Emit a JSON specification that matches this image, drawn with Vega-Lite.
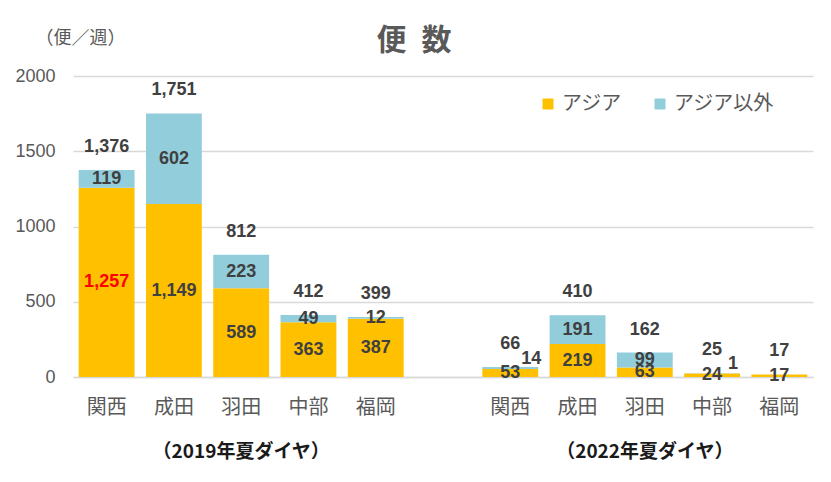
{
  "$schema": "https://vega.github.io/schema/vega-lite/v6.json",
  "autosize": {"type": "none"},
  "width": 740,
  "height": 301,
  "padding": {"left": 73, "top": 76, "right": 18, "bottom": 105},
  "background": "white",
  "title": {
    "text": "便\u2002数",
    "anchor": "middle",
    "fontSize": 30,
    "fontWeight": "bold",
    "color": "#595959",
    "font": "Noto Sans CJK JP",
    "dx": -29,
    "dy": 47,
    "offset": 20
  },
  "config": {
    "view": {"stroke": null},
    "text": {"font": "Liberation Sans", "fontSize": 18, "fontWeight": "bold"}
  },
  "datasets": {
    "seg": [
      {"k": "2019関西", "yr": 2019, "r": "アジア", "v": 1257},
      {"k": "2019関西", "yr": 2019, "r": "アジア以外", "v": 119},
      {"k": "2019成田", "yr": 2019, "r": "アジア", "v": 1149},
      {"k": "2019成田", "yr": 2019, "r": "アジア以外", "v": 602},
      {"k": "2019羽田", "yr": 2019, "r": "アジア", "v": 589},
      {"k": "2019羽田", "yr": 2019, "r": "アジア以外", "v": 223},
      {"k": "2019中部", "yr": 2019, "r": "アジア", "v": 363},
      {"k": "2019中部", "yr": 2019, "r": "アジア以外", "v": 49},
      {"k": "2019福岡", "yr": 2019, "r": "アジア", "v": 387},
      {"k": "2019福岡", "yr": 2019, "r": "アジア以外", "v": 12},
      {"k": "2022関西", "yr": 2022, "r": "アジア", "v": 53},
      {"k": "2022関西", "yr": 2022, "r": "アジア以外", "v": 14},
      {"k": "2022成田", "yr": 2022, "r": "アジア", "v": 219},
      {"k": "2022成田", "yr": 2022, "r": "アジア以外", "v": 191},
      {"k": "2022羽田", "yr": 2022, "r": "アジア", "v": 63},
      {"k": "2022羽田", "yr": 2022, "r": "アジア以外", "v": 99},
      {"k": "2022中部", "yr": 2022, "r": "アジア", "v": 24},
      {"k": "2022中部", "yr": 2022, "r": "アジア以外", "v": 1},
      {"k": "2022福岡", "yr": 2022, "r": "アジア", "v": 17},
      {"k": "2022福岡", "yr": 2022, "r": "アジア以外", "v": 0}
    ],
    "tot": [
      {"k": "2019関西", "t": 1376},
      {"k": "2019成田", "t": 1751},
      {"k": "2019羽田", "t": 812},
      {"k": "2019中部", "t": 412},
      {"k": "2019福岡", "t": 399},
      {"k": "2022関西", "t": 66},
      {"k": "2022成田", "t": 410},
      {"k": "2022羽田", "t": 162},
      {"k": "2022中部", "t": 25},
      {"k": "2022福岡", "t": 17}
    ],
    "grp": [
      {"k": "2019羽田", "yr": 2019, "g": "（2019年夏ダイヤ）"},
      {"k": "2022羽田", "yr": 2022, "g": "（2022年夏ダイヤ）"}
    ]
  },
  "layer": [
    {
      "data": {"name": "seg"},
      "transform": [
        {"stack": "v", "groupby": ["k"], "sort": [{"field": "r"}], "as": ["v0", "v1"]}
      ],
      "mark": {"type": "bar"},
      "encoding": {
        "x": {
          "field": "k",
          "type": "nominal",
          "sort": null,
          "scale": {
            "domain": ["2019関西", "2019成田", "2019羽田", "2019中部", "2019福岡", "gap", "2022関西", "2022成田", "2022羽田", "2022中部", "2022福岡"],
            "paddingInner": 0.17,
            "paddingOuter": 0.085
          },
          "axis": {
            "title": null,
            "labelExpr": "datum.value == 'gap' ? '' : slice(datum.value, 4)",
            "labelAngle": 0,
            "labelFont": "Noto Sans CJK JP",
            "labelFontSize": 20,
            "labelColor": "#595959",
            "labelPadding": 20,
            "ticks": false,
            "domain": true,
            "domainColor": "#d9d9d9",
            "domainWidth": 1.5
          }
        },
        "y": {
          "field": "v0",
          "type": "quantitative",
          "scale": {"domain": [0, 2000], "nice": false},
          "axis": {
            "title": "（便／週）",
            "titleAngle": 0,
            "titleAlign": "left",
            "titleBaseline": "middle",
            "titleX": -38,
            "titleY": -38,
            "titleFont": "Noto Sans CJK JP",
            "titleFontSize": 18,
            "titleFontWeight": "normal",
            "titleColor": "#595959",
            "values": [0, 500, 1000, 1500, 2000],
            "format": "d",
            "labelFont": "Liberation Sans",
            "labelFontSize": 18,
            "labelColor": "#595959",
            "labelPadding": 18,
            "ticks": false,
            "domain": false,
            "grid": true,
            "gridColor": "#d9d9d9",
            "gridWidth": 1.5
          }
        },
        "y2": {"field": "v1"},
        "color": {
          "field": "r",
          "type": "nominal",
          "scale": {"domain": ["アジア", "アジア以外"], "range": ["#FFC000", "#92CDDC"]},
          "legend": {
            "title": null,
            "orient": "none",
            "direction": "horizontal",
            "legendX": 465,
            "legendY": 18,
            "symbolType": "square",
            "symbolSize": 121,
            "symbolStrokeWidth": 0,
            "labelFont": "Noto Sans CJK JP",
            "labelFontSize": 20,
            "labelColor": "#595959",
            "labelOffset": 4,
            "columnPadding": 28
          }
        }
      }
    },
    {
      "data": {"name": "seg"},
      "transform": [
        {"stack": "v", "groupby": ["k"], "sort": [{"field": "r"}], "as": ["v0", "v1"]},
        {"calculate": "(datum.v0 + datum.v1) / 2", "as": "m"},
        {"filter": "datum.r == 'アジア'"}
      ],
      "mark": {"type": "text", "baseline": "middle", "align": "center"},
      "encoding": {
        "x": {"field": "k", "type": "nominal", "sort": null},
        "y": {"field": "m", "type": "quantitative"},
        "text": {"field": "v", "type": "quantitative", "format": ",d"},
        "color": {
          "condition": {"test": "datum.k == '2019関西'", "value": "#FF0000"},
          "value": "#404040"
        }
      }
    },
    {
      "data": {"name": "seg"},
      "transform": [
        {"stack": "v", "groupby": ["k"], "sort": [{"field": "r"}], "as": ["v0", "v1"]},
        {"calculate": "(datum.v0 + datum.v1) / 2", "as": "m"},
        {"filter": "datum.r == 'アジア以外' && datum.v > 0 && !(datum.yr == 2022 && datum.v < 20)"}
      ],
      "mark": {"type": "text", "baseline": "middle", "align": "center", "color": "#404040"},
      "encoding": {
        "x": {"field": "k", "type": "nominal", "sort": null},
        "y": {"field": "m", "type": "quantitative"},
        "text": {"field": "v", "type": "quantitative", "format": ",d"}
      }
    },
    {
      "data": {"name": "seg"},
      "transform": [
        {"stack": "v", "groupby": ["k"], "sort": [{"field": "r"}], "as": ["v0", "v1"]},
        {"calculate": "(datum.v0 + datum.v1) / 2", "as": "m"},
        {"filter": "datum.r == 'アジア以外' && datum.v > 0 && datum.yr == 2022 && datum.v < 20"}
      ],
      "mark": {"type": "text", "baseline": "middle", "align": "center", "color": "#404040", "dx": 21, "dy": -9},
      "encoding": {
        "x": {"field": "k", "type": "nominal", "sort": null},
        "y": {"field": "m", "type": "quantitative"},
        "text": {"field": "v", "type": "quantitative", "format": ",d"}
      }
    },
    {
      "data": {"name": "tot"},
      "mark": {"type": "text", "baseline": "middle", "align": "center", "color": "#404040", "dy": -23},
      "encoding": {
        "x": {"field": "k", "type": "nominal", "sort": null},
        "y": {"field": "t", "type": "quantitative"},
        "text": {"field": "t", "type": "quantitative", "format": ",d"}
      }
    },
    {
      "data": {"name": "grp"},
      "mark": {"type": "text", "baseline": "middle", "align": "center", "color": "#1a1a1a", "font": "Noto Sans CJK JP", "fontSize": 19, "fontWeight": "bold", "dy": 75},
      "encoding": {
        "x": {"field": "k", "type": "nominal", "sort": null},
        "y": {"datum": 0, "type": "quantitative"},
        "text": {"field": "g", "type": "nominal"}
      }
    }
  ]
}
